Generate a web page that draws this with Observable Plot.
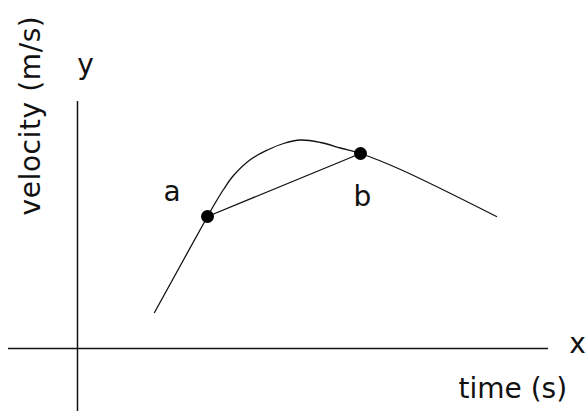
<!DOCTYPE html>
<html>
<head>
<meta charset="utf-8">
<script src="https://cdn.jsdelivr.net/npm/d3@7"></script>
<script src="https://cdn.jsdelivr.net/npm/@observablehq/plot@0.6"></script>
<style>
  html, body { margin: 0; padding: 0; background: #fff; }
</style>
</head>
<body>
<div id="chart"></div>
<script>
// Curve (time in s, velocity in m/s, arbitrary units)
const curveT = [7.7, 13.0, 13.8, 14.6, 15.6, 17.3, 19.0, 20.6, 22.3, 24.3, 26.3, 28.3, 32.3, 41.9];
const curveV = [3.6, 13.2, 14.6, 15.9, 17.3, 18.9, 19.85, 20.5, 20.85, 20.6, 20.05, 19.5, 17.9, 13.2];
// Marked points a and b
const pointNames = ["a", "b"];
const pointT = [13.0, 28.3];
const pointV = [13.2, 19.5];
// Point label positions
const labelT = [9.45, 28.5];
const labelV = [14.8, 14.3];
// Axis extents
const xAxisT = [-6.9, 47.1];
const yAxisV = [-6.3, 24.7];

const curve = curveT.map((t, i) => ({t, v: curveV[i]}));
const pts = pointNames.map((n, i) => ({n, t: pointT[i], v: pointV[i]}));
const lbls = pointNames.map((n, i) => ({n, t: labelT[i], v: labelV[i]}));

const chart = Plot.plot({
  width: 586,
  height: 411,
  marginTop: 0, marginRight: 0, marginBottom: 0, marginLeft: 0,
  x: {domain: [-7.7, 50.9], axis: null},
  y: {domain: [-6.3, 34.8], axis: null},
  style: {fontFamily: "DejaVu Sans", fontSize: "28px", background: "#fff", color: "#000"},
  marks: [
    Plot.ruleY([0], {x1: xAxisT[0], x2: xAxisT[1], stroke: "#111", strokeWidth: 1.5}),
    Plot.ruleX([0], {y1: yAxisV[0], y2: yAxisV[1], stroke: "#111", strokeWidth: 1.5}),
    Plot.line(curve, {x: "t", y: "v", curve: "catmull-rom", stroke: "#111", strokeWidth: 1.3}),
    Plot.line(pts, {x: "t", y: "v", stroke: "#111", strokeWidth: 1.3}),
    Plot.dot(pts, {x: "t", y: "v", r: 6.5, fill: "#000", stroke: "none"}),
    Plot.text(lbls, {x: "t", y: "v", text: "n", fontSize: 28, textAnchor: "middle", lineAnchor: "bottom", fill: "#111"}),
    Plot.text(["y"], {x: 0.8, y: 27.5, fontSize: 28, textAnchor: "middle", lineAnchor: "bottom", fill: "#111"}),
    Plot.text(["x"], {x: 50.0, y: -0.4, fontSize: 28, textAnchor: "middle", lineAnchor: "bottom", fill: "#111"}),
    Plot.text(["time (s)"], {x: 38.1, y: -4.9, fontSize: 28, textAnchor: "start", lineAnchor: "bottom", fill: "#111"}),
    Plot.text(["velocity (m/s)"], {x: -3.8, y: 13.3, fontSize: 28, rotate: -90, textAnchor: "start", lineAnchor: "bottom", fill: "#111"})
  ]
});
d3.select(chart).selectAll("text").filter(function() { return this.textContent === "velocity (m/s)"; })
  .attr("letter-spacing", "0.6px");
document.getElementById("chart").appendChild(chart);
</script>
</body>
</html>
